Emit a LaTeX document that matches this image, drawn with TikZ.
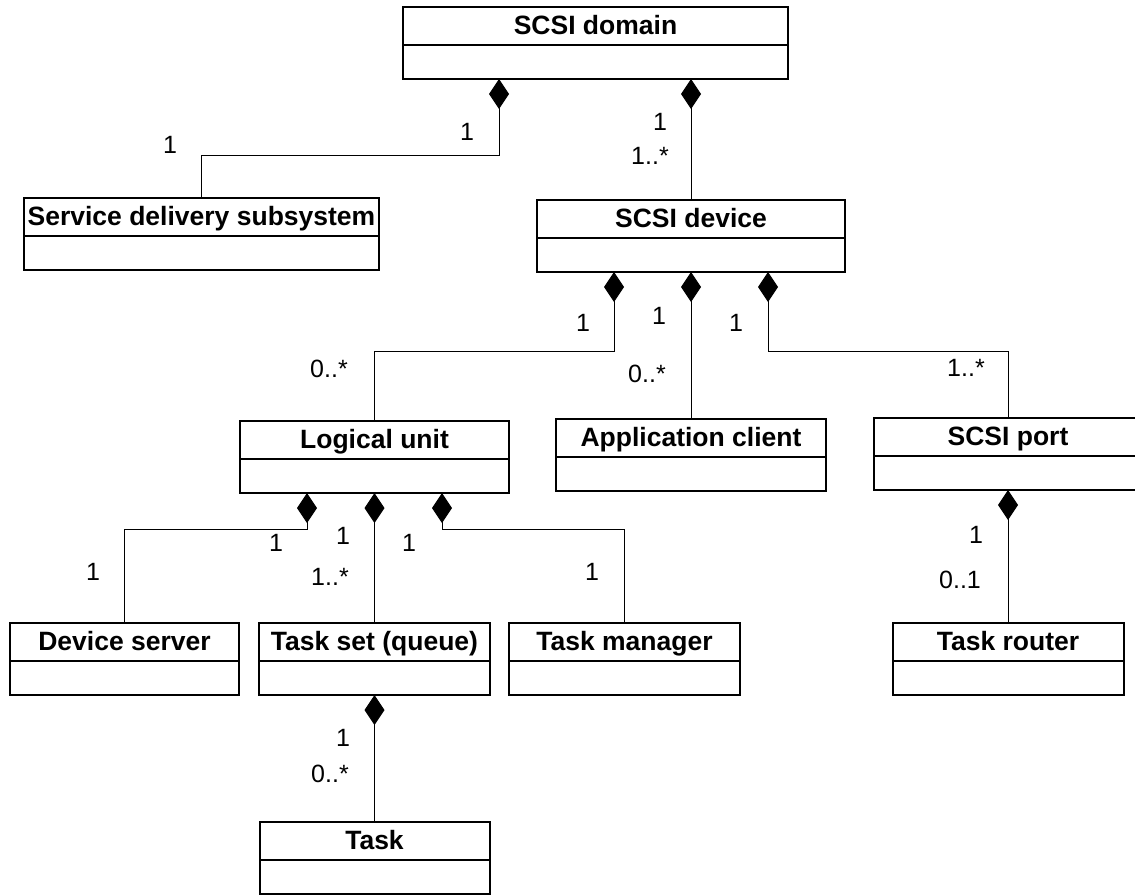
\documentclass[tikz,border=0pt]{standalone}
\usepackage{fontspec}
\setmainfont{Liberation Sans}
\usetikzlibrary{arrows.meta}

\tikzset{
  cls/.style={draw, rectangle, line width=2pt, outer sep=0pt, inner xsep=0pt, inner ysep=0pt,
    text height=27pt, text depth=45pt, anchor=north, font=\fontsize{26.5}{30}\selectfont\bfseries},
  comp/.style={line width=1pt, {Diamond[length=30pt,width=20pt]}-},
  mult/.style={inner sep=0pt, font=\fontsize{25}{30}\selectfont},
}

\begin{document}
\begin{tikzpicture}[x=1pt,y=-1pt]
        \useasboundingbox (0,0) rectangle (1135,895);
        \clip (0,0) rectangle (1135,895);

        % classes
        \node[cls, minimum width=385pt] (dom) at (595.5,7) {SCSI domain};
        \node[cls, minimum width=355pt] (sds) at (201.5,198) {Service delivery subsystem};
        \node[cls, minimum width=308pt] (dev) at (691,200) {SCSI device};
        \node[cls, minimum width=269pt] (lu) at (374.5,421) {Logical unit};
        \node[cls, minimum width=270pt] (ac) at (691,419) {Application client};
        \node[cls, minimum width=268pt] (sp) at (1008,418) {SCSI port};
        \node[cls, minimum width=229pt] (ds) at (124.5,623) {Device server};
        \node[cls, minimum width=231pt] (ts) at (374.5,623) {Task set (queue)};
        \node[cls, minimum width=231pt] (tm) at (624.5,623) {Task manager};
        \node[cls, minimum width=231pt] (tr) at (1008,623) {Task router};
        \node[cls, minimum width=230pt] (task) at (374.5,822) {Task};

        \foreach \c in {dom,sds,dev,lu,ac,sp,ds,ts,tm,tr,task}
            \draw[line width=2pt] ([yshift=-38pt]\c.north west) -- ([yshift=-38pt]\c.north east);

        % compositions
        \draw[comp] ([xshift=-96.5pt]dom.south) -- ++(0,76) -| (sds.north);
        \draw[comp] (dom.south -| dev.north) -- (dev.north);
        \draw[comp] ([xshift=-77pt]dev.south) -- ++(0,79) -| (lu.north);
        \draw[comp] (dev.south) -- (ac.north);
        \draw[comp] ([xshift=77pt]dev.south) -- ++(0,79) -| (sp.north);
        \draw[comp] ([xshift=-67.5pt]lu.south) -- ++(0,36) -| (ds.north);
        \draw[comp] (lu.south) -- (ts.north);
        \draw[comp] ([xshift=67.5pt]lu.south) -- ++(0,36) -| (tm.north);
        \draw[comp] (sp.south) -- (tr.north);
        \draw[comp] (ts.south) -- (task.north);

        % multiplicities
        \node[mult] (m-sds) at (170,145) {1};
        \node[mult] (m-dom1) at (467,132) {1};
        \node[mult] (m-dom2) at (660,122) {1};
        \node[mult] (m-dev) at (650,156) {1..*};
        \node[mult] (m-dev1) at (583,323) {1};
        \node[mult] (m-dev2) at (659,316) {1};
        \node[mult] (m-dev3) at (736,323) {1};
        \node[mult] (m-lu) at (329,369) {0..*};
        \node[mult] (m-ac) at (647,374) {0..*};
        \node[mult] (m-sp) at (966,368) {1..*};
        \node[mult] (m-lu1) at (276,543) {1};
        \node[mult] (m-lu2) at (343,536) {1};
        \node[mult] (m-lu3) at (409,543) {1};
        \node[mult] (m-ds) at (93,572) {1};
        \node[mult] (m-ts) at (330,577) {1..*};
        \node[mult] (m-tm) at (592,572) {1};
        \node[mult] (m-sp1) at (976,535) {1};
        \node[mult] (m-tr) at (960,580) {0..1};
        \node[mult] (m-ts1) at (343,738) {1};
        \node[mult] (m-task) at (330,774) {0..*};
\end{tikzpicture}
\end{document}
